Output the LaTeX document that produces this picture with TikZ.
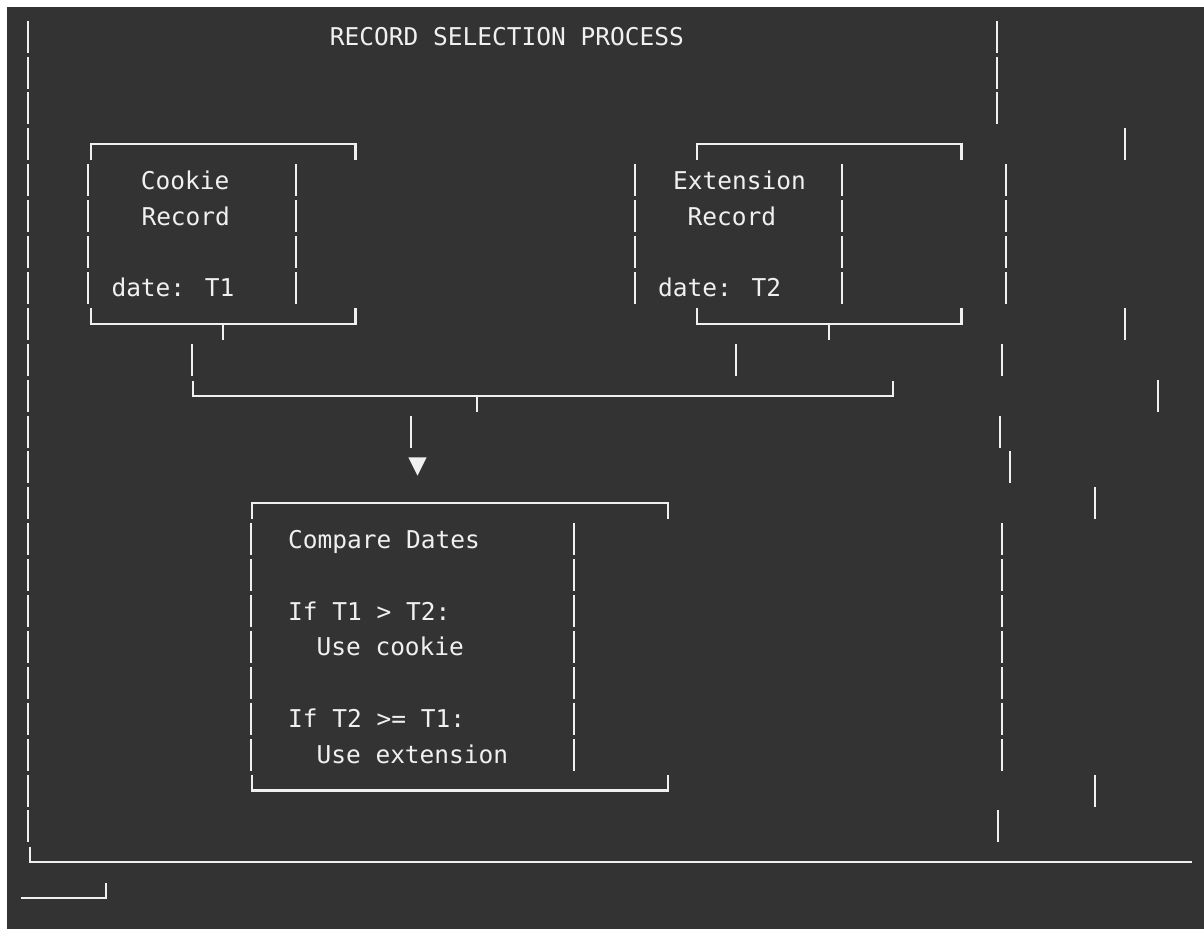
\documentclass[tikz,border=0pt]{standalone}
\usepackage{fontspec}
\newfontfamily\monofam{DejaVu Sans Mono}
\definecolor{bg}{HTML}{333333}
\definecolor{fg}{HTML}{F0F0F0}
\newcommand\abar[2]{\draw[ln] (#1,{cy(#2)-16}) -- (#1,{cy(#2)+16});}
\newcommand\abtop[3]{\draw[ln] (#1,{cy(#3)+16}) -- (#1,{cy(#3)}) -- (#2,{cy(#3)}) -- (#2,{cy(#3)+16});}
\newcommand\abbot[3]{\draw[ln] (#1,{cy(#3)-16}) -- (#1,{cy(#3)}) -- (#2,{cy(#3)}) -- (#2,{cy(#3)-16});}
\newcommand\abtick[2]{\draw[ln] (#1,{cy(#2)}) -- (#1,{cy(#2)+16});}
\begin{document}
\begin{tikzpicture}[x=1pt,y=-1pt,
  declare function={cy(\i)=36.6+35.9*\i;},
  ln/.style={draw=fg,line width=2.2pt},
  txt/.style={anchor=base west,inner sep=0pt,text=fg,font=\monofam\fontsize{24.5}{28}\selectfont}]
\useasboundingbox (0,0) rectangle (1204,929);
\fill[white] (0,0) rectangle (1204,929);
\fill[bg] (7,7) rectangle (1204,929);

% left border
\foreach \r in {0,...,22} {\abar{28.3}{\r}}
% scattered right bars
\foreach \x/\r in {997.3/0,997.3/1,997.3/2,1124.7/3,1005.7/4,1005.7/5,1005.7/6,1005.7/7,
  1124.7/8,1001.7/9,1158.3/10,999.7/11,1009.7/12,1095/13,1001.7/14,1001.7/15,1001.7/16,
  1001.7/17,1001.7/18,1001.7/19,1001.7/20,1095/21,997.7/22} {\abar{\x}{\r}}

% title
\node[txt] (title) at (329.7,{cy(0)+9}) {RECORD SELECTION PROCESS};

% cookie box
\abtop{90.7}{355.5}{3}
\foreach \r in {4,...,7} {\abar{88.3}{\r}\abar{296}{\r}}
\abbot{90.7}{355.5}{8}
\abtick{223.3}{8}
\node[txt] (cookie1) at (140.7,{cy(4)+9}) {Cookie};
\node[txt] (cookie2) at (141.3,{cy(5)+9}) {Record};
\node[txt] (cookie3) at (111.3,{cy(7)+9}) {date: T1};

% extension box
\abtop{696.7}{961.5}{3}
\foreach \r in {4,...,7} {\abar{635}{\r}\abar{842.3}{\r}}
\abbot{696.7}{961.5}{8}
\abtick{829.3}{8}
\node[txt] (ext1) at (673,{cy(4)+9}) {Extension};
\node[txt] (ext2) at (687.3,{cy(5)+9}) {Record};
\node[txt] (ext3) at (658,{cy(7)+9}) {date: T2};

% connector rows
\abar{191.7}{9}
\abar{735.7}{9}
\draw[ln] (193.3,{cy(10)-15}) -- (193.3,{cy(10)}) -- (893.3,{cy(10)}) -- (893.3,{cy(10)-15});
\abtick{477}{10}
\abar{411}{11}
\fill[fg] (408.3,457.3) -- (426.7,457.3) -- (417.5,475.7) -- cycle;

% compare box
\abtop{251.7}{668.3}{13}
\foreach \r in {14,...,20} {\abar{250.7}{\r}\abar{574.3}{\r}}
\abbot{252}{668.3}{21}
\node[txt] (cmp1) at (288,{cy(14)+9}) {Compare Dates};
\node[txt] (cmp2) at (288,{cy(16)+9}) {If T1 > T2:};
\node[txt] (cmp3) at (316.3,{cy(17)+9}) {Use cookie};
\node[txt] (cmp4) at (288,{cy(19)+9}) {If T2 >= T1:};
\node[txt] (cmp5) at (316.3,{cy(20)+9}) {Use extension};

% bottom lines
\draw[ln] (30,{cy(23)-15}) -- (30,{cy(23)}) -- (1192.3,{cy(23)});
\draw[ln] (20.7,{cy(24)}) -- (106,{cy(24)}) -- (106,{cy(24)-15});
\end{tikzpicture}
\end{document}
